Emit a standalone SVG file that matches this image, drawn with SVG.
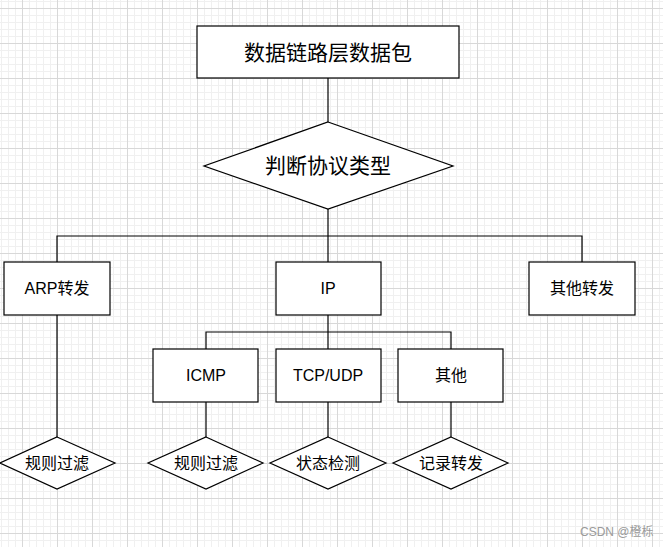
<svg xmlns="http://www.w3.org/2000/svg" width="663" height="547" viewBox="0 0 663 547">
<defs>
<pattern id="minor" x="1" y="1" width="7" height="7" patternUnits="userSpaceOnUse">
<path d="M0 0.5H7M0.5 0V7" stroke="#f0f0f0" stroke-width="1" fill="none"/>
</pattern>
<pattern id="major" x="22" y="8" width="35" height="35" patternUnits="userSpaceOnUse">
<path d="M0 0.5H35M0.5 0V35" stroke="#d8d8d8" stroke-width="1" fill="none"/>
</pattern>
</defs>
<style>
.box{fill:#fff;stroke:#000;stroke-width:1.2}
.ln{fill:none;stroke:#000;stroke-width:1.2}
.t{font-family:"Liberation Sans","Noto Sans CJK SC",sans-serif;fill:#000;text-anchor:middle;dominant-baseline:central}
.big{font-size:21px}
.med{font-size:16px}
.wm{font-family:"Liberation Sans","Noto Sans CJK SC",sans-serif;font-size:12px;fill:#9a9a9a}
</style>
<rect width="663" height="547" fill="#fff"/>
<rect width="663" height="547" fill="url(#minor)"/>
<rect width="663" height="547" fill="url(#major)"/>
<g id="connectors">
<path class="ln" d="M328 78V122"/>
<path class="ln" d="M328 209V262"/>
<path class="ln" d="M57 262V236H582V262"/>
<path class="ln" d="M328 315V332"/>
<path class="ln" d="M206 349V332H451V349"/>
<path class="ln" d="M328 332V349"/>
<path class="ln" d="M57 315V437"/>
<path class="ln" d="M206 402V437"/>
<path class="ln" d="M328 402V437"/>
<path class="ln" d="M451 402V437"/>
</g>
<g id="root">
<rect class="box" x="197" y="26" width="262" height="52"/>
<text class="t big" x="328" y="52">数据链路层数据包</text>
</g>
<g id="decide">
<polygon class="box" points="328,122 453,166 328,209 204,166"/>
<text class="t big" x="328" y="165">判断协议类型</text>
</g>
<g id="arp">
<rect class="box" x="4" y="262" width="106" height="53"/>
<text class="t med" x="57" y="288">ARP转发</text>
</g>
<g id="ip">
<rect class="box" x="276" y="262" width="105" height="53"/>
<text class="t med" x="328" y="288">IP</text>
</g>
<g id="other-fwd">
<rect class="box" x="529" y="262" width="106" height="53"/>
<text class="t med" x="582" y="288">其他转发</text>
</g>
<g id="icmp">
<rect class="box" x="153" y="349" width="105" height="53"/>
<text class="t med" x="206" y="375">ICMP</text>
</g>
<g id="tcpudp">
<rect class="box" x="276" y="349" width="105" height="53"/>
<text class="t med" x="328" y="375">TCP/UDP</text>
</g>
<g id="other">
<rect class="box" x="398" y="349" width="105" height="53"/>
<text class="t med" x="451" y="375">其他</text>
</g>
<g id="arp-filter">
<polygon class="box" points="57,437 115,463 57,489 0,463"/>
<text class="t med" x="57" y="463">规则过滤</text>
</g>
<g id="icmp-filter">
<polygon class="box" points="206,437 263,463 206,489 148,463"/>
<text class="t med" x="206" y="463">规则过滤</text>
</g>
<g id="state-check">
<polygon class="box" points="328,437 386,463 328,489 270,463"/>
<text class="t med" x="328" y="463">状态检测</text>
</g>
<g id="log-fwd">
<polygon class="box" points="451,437 508,463 451,489 393,463"/>
<text class="t med" x="451" y="463">记录转发</text>
</g>
<text class="wm" x="580" y="536">CSDN @橙栎</text>
</svg>
